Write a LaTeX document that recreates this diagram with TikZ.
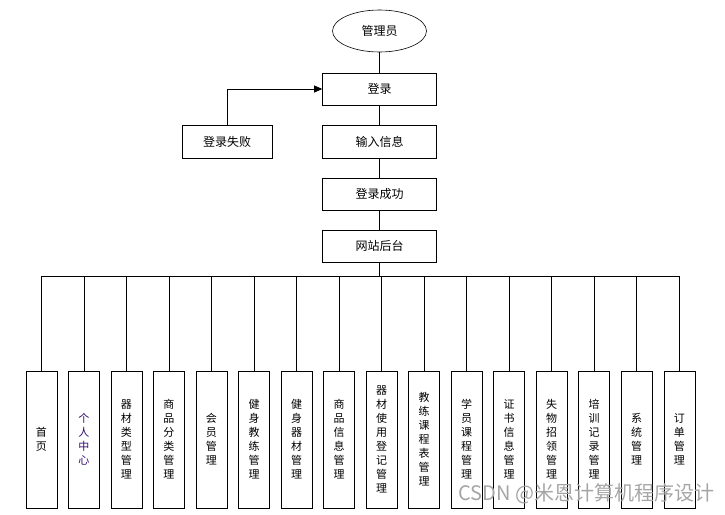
\documentclass[tikz,border=0pt]{standalone}
\usepackage{fontspec}
\newfontfamily\cjk{Noto Sans CJK SC}
\usetikzlibrary{shapes.geometric,arrows.meta}
\definecolor{violetink}{RGB}{50,10,110}
\definecolor{markgray}{RGB}{165,165,165}

\begin{document}
\begin{tikzpicture}[x=1pt,y=-1pt,line width=0.6pt,
    box/.style={rectangle,draw,minimum width=114pt,minimum height=32pt,font=\cjk\fontsize{12}{14}\selectfont},
    col/.style={rectangle,draw,minimum width=31pt,minimum height=137pt,inner sep=1pt,align=center,font=\cjk\fontsize{11}{14}\selectfont}]

      \useasboundingbox (0,0) rectangle (725,514);

      \node[ellipse,draw,minimum width=94pt,minimum height=42pt,font=\cjk\fontsize{12}{14}\selectfont] (admin) at (379.5,31) {管理员};
      \node[box] (login)   at (379.5,89)    {登录};
      \node[box,minimum width=90pt,minimum height=33pt] (fail) at (227,141.5) {登录失败};
      \node[box,minimum height=33pt] (input) at (379.5,141.5) {输入信息};
      \node[box] (success) at (379.5,194)   {登录成功};
      \node[box] (backend) at (379.5,246)   {网站后台};
      \coordinate (bus) at (379.5,276);

      \begin{scope}[every node/.style={col}]
        \node (b1)  at (41.3,439.5)  {首\\页};
        \node[text=violetink] (b2) at (83.8,439.5) {个\\人\\中\\心};
        \node (b3)  at (126.4,439.5) {器\\材\\类\\型\\管\\理};
        \node (b4)  at (168.9,439.5) {商\\品\\分\\类\\管\\理};
        \node (b5)  at (211.4,439.5) {会\\员\\管\\理};
        \node (b6)  at (254.0,439.5) {健\\身\\教\\练\\管\\理};
        \node (b7)  at (296.5,439.5) {健\\身\\器\\材\\管\\理};
        \node (b8)  at (339.0,439.5) {商\\品\\信\\息\\管\\理};
        \node (b9)  at (381.5,439.5) {器\\材\\使\\用\\登\\记\\管\\理};
        \node (b10) at (424.1,439.5) {教\\练\\课\\程\\表\\管\\理};
        \node (b11) at (466.6,439.5) {学\\员\\课\\程\\管\\理};
        \node (b12) at (509.1,439.5) {证\\书\\信\\息\\管\\理};
        \node (b13) at (551.7,439.5) {失\\物\\招\\领\\管\\理};
        \node (b14) at (594.2,439.5) {培\\训\\记\\录\\管\\理};
        \node (b15) at (636.7,439.5) {系\\统\\管\\理};
        \node (b16) at (679.3,439.5) {订\\单\\管\\理};
      \end{scope}

      \draw (admin) -- (login);
      \draw (login) -- (input);
      \draw (input) -- (success);
      \draw (success) -- (backend);
      \draw (backend) -- (bus);
      \draw[-{Triangle[length=8pt,width=7pt]}] (fail.north) |- (login.west);

      \begin{scope}[every edge/.style={draw}]
        \path (b1 |- bus)  edge (b16 |- bus);
        \path (b1 |- bus)  edge (b1);
        \path (b2 |- bus)  edge (b2);
        \path (b3 |- bus)  edge (b3);
        \path (b4 |- bus)  edge (b4);
        \path (b5 |- bus)  edge (b5);
        \path (b6 |- bus)  edge (b6);
        \path (b7 |- bus)  edge (b7);
        \path (b8 |- bus)  edge (b8);
        \path (b9 |- bus)  edge (b9);
        \path (b10 |- bus) edge (b10);
        \path (b11 |- bus) edge (b11);
        \path (b12 |- bus) edge (b12);
        \path (b13 |- bus) edge (b13);
        \path (b14 |- bus) edge (b14);
        \path (b15 |- bus) edge (b15);
        \path (b16 |- bus) edge (b16);
      \end{scope}

      \node[anchor=west,inner sep=0pt,text=markgray,font=\cjk\fontsize{20}{22}\selectfont] (mark) at (458,494) {CSDN @米恩计算机程序设计};

    \end{tikzpicture}
\end{document}
